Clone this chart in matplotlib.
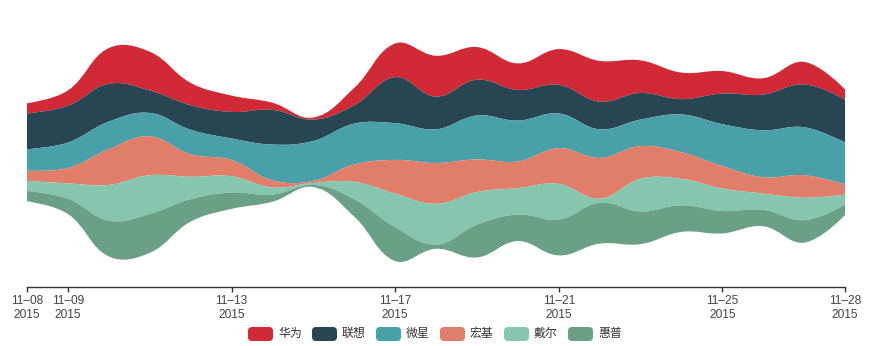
import math

import matplotlib

matplotlib.use("Agg")
import matplotlib.pyplot as plt
from matplotlib.patches import FancyBboxPatch, PathPatch
from matplotlib.path import Path
from matplotlib.transforms import IdentityTransform

plt.rcParams["font.family"] = ["Liberation Sans", "Noto Sans CJK SC", "DejaVu Sans"]

# ── data ──
dates = [
    "2015/11/08", "2015/11/09", "2015/11/10", "2015/11/11", "2015/11/12", "2015/11/13",
    "2015/11/14", "2015/11/15", "2015/11/16", "2015/11/17", "2015/11/18", "2015/11/19",
    "2015/11/20", "2015/11/21", "2015/11/22", "2015/11/23", "2015/11/24", "2015/11/25",
    "2015/11/26", "2015/11/27", "2015/11/28",
]
names = ["华为", "联想", "微星", "宏基", "戴尔", "惠普"]
huawei = [10, 15, 35, 38, 22, 16, 7, 2, 17, 33, 40, 32, 26, 35, 40, 32, 26, 22, 16, 22, 10]
lenovo = [35, 36, 37, 22, 24, 26, 34, 21, 18, 45, 32, 35, 30, 28, 27, 26, 15, 30, 35, 42, 42]
msi = [21, 25, 27, 23, 24, 21, 35, 39, 40, 36, 33, 43, 40, 34, 28, 26, 37, 41, 46, 47, 41]
acer = [10, 15, 35, 38, 22, 16, 7, 2, 17, 33, 40, 32, 26, 35, 40, 32, 26, 22, 16, 22, 10]
dell = [10, 15, 35, 38, 22, 16, 7, 2, 17, 33, 40, 32, 26, 35, 4, 32, 26, 22, 16, 22, 10]
hp = [10, 15, 35, 38, 22, 16, 7, 2, 17, 33, 4, 32, 26, 35, 40, 32, 26, 22, 16, 22, 10]
series = [huawei, lenovo, msi, acer, dell, hp]
tick_idx = [0, 1, 5, 9, 13, 17, 20]

colors = ["#d12a36", "#284552", "#4aa0a8", "#e07e6a", "#86c6ae", "#6aa086"]
AXIS = "#333333"
LABEL = "#444444"

# ── layout (pixels) ──
W, H = 870, 346
LEFT, RIGHT = 27, 845
RIVER_TOP, RIVER_BOT = 43.5, 261
AXIS_Y = 287
SMOOTH = 0.4


def smooth_curve(pts, smooth):
    """Cubic Bezier segments through pts (screen space), control points split by segment length."""
    verts = []
    cp0 = pts[0]
    n = len(pts)
    for i in range(1, n):
        px, py = pts[i - 1]
        x, y = pts[i]
        if i == n - 1:
            cp1, ncp0 = (x, y), None
        else:
            nx, ny = pts[i + 1]
            vx, vy = nx - px, ny - py
            l0 = math.hypot(x - px, y - py)
            l1 = math.hypot(nx - x, ny - y)
            r = l1 / (l0 + l1)
            cp1 = (x - vx * smooth * (1 - r), y - vy * smooth * (1 - r))
            ncp0 = (x + vx * smooth * r, y + vy * smooth * r)
        verts += [cp0, cp1, (x, y)]
        cp0 = ncp0
    return verts


fig = plt.figure(figsize=(W / 100, H / 100), dpi=100)
ax = fig.add_axes([LEFT / W, 1 - RIVER_BOT / H, (RIGHT - LEFT) / W, (RIVER_BOT - RIVER_TOP) / H])

n = len(dates)
sums = [sum(s[k] for s in series) for k in range(n)]
vmax = max(sums)
ax.set_xlim(0, n - 1)
ax.set_ylim(vmax, 0)

# screen-space scale so the smoothing behaves like it does on the canvas
sx = (RIGHT - LEFT) / (n - 1)
sy = (RIVER_BOT - RIVER_TOP) / vmax

base = [(vmax - s) / 2 for s in sums]
for vals, color in zip(series, colors):
    top = [(k * sx, base[k] * sy) for k in range(n)]
    bot = [(k * sx, (base[k] + vals[k]) * sy) for k in range(n)]
    verts = [top[0]] + smooth_curve(top, SMOOTH)
    codes = [Path.MOVETO] + [Path.CURVE4] * (len(verts) - 1)
    back = bot[::-1]
    verts += [back[0]] + smooth_curve(back, SMOOTH) + [top[0]]
    codes += [Path.LINETO] + [Path.CURVE4] * (3 * (n - 1)) + [Path.CLOSEPOLY]
    verts = [(vx / sx, vy / sy) for vx, vy in verts]
    ax.add_patch(PathPatch(Path(verts, codes), facecolor=color, edgecolor="none", clip_on=False))
    base = [base[k] + vals[k] for k in range(n)]

# single time axis below the river
for side in ("top", "left", "right"):
    ax.spines[side].set_visible(False)
ax.spines["bottom"].set_position(("outward", (AXIS_Y - RIVER_BOT) * 0.72))
ax.spines["bottom"].set_color(AXIS)
ax.spines["bottom"].set_linewidth(1)
ax.set_yticks([])
ax.set_xticks(tick_idx)
ax.set_xticklabels([f"{dates[i][5:7]}–{dates[i][8:]}\n{dates[i][:4]}" for i in tick_idx])
ax.tick_params(axis="x", direction="out", length=3.6, width=1, color=AXIS, labelcolor=LABEL,
               labelsize=8.6, pad=2)
ax.patch.set_visible(False)

# legend
item_w, sw_w, sw_h = 64, 25, 14
x0 = (W - (item_w * len(names) - 10)) / 2
ly = H - 334
for i, (name, color) in enumerate(zip(names, colors)):
    x = x0 + i * item_w
    fig.add_artist(FancyBboxPatch((x, ly - sw_h / 2), sw_w, sw_h, boxstyle="round,pad=0,rounding_size=4",
                                  facecolor=color, edgecolor="none", transform=IdentityTransform()))
    fig.text(x + sw_w + 5, ly, name, transform=IdentityTransform(), ha="left", va="center",
             fontsize=8.6, color="#333333")

fig.savefig("out.png", dpi=100, facecolor="white")
